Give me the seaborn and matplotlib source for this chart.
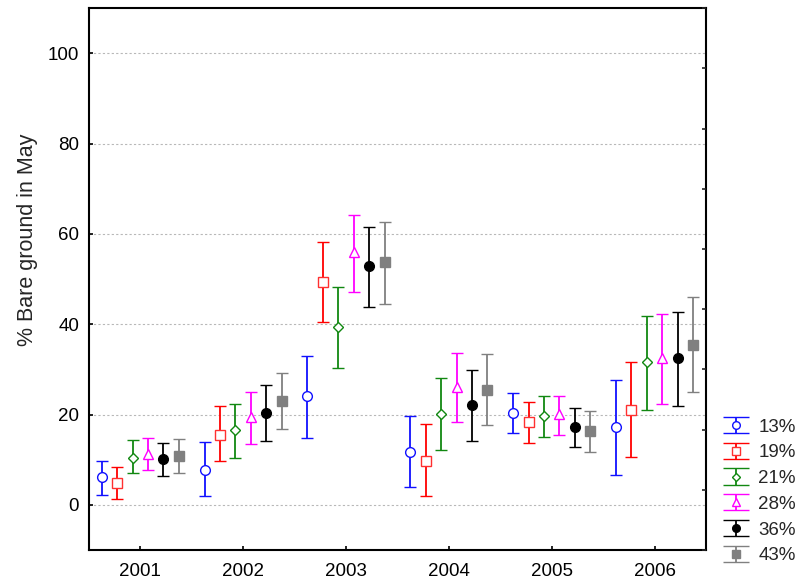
import numpy as np
import pandas as pd
import matplotlib
matplotlib.use("Agg")
import matplotlib.pyplot as plt
from matplotlib.legend_handler import HandlerErrorbar
import seaborn as sns

years = ["2001", "2002", "2003", "2004", "2005", "2006"]
groups = ["13%", "19%", "21%", "28%", "36%", "43%"]

mean_13 = [6.1, 7.8, 24.0, 11.8, 20.3, 17.3]
low_13 = [2.2, 1.9, 14.9, 4.0, 15.9, 6.7]
high_13 = [9.8, 13.9, 32.9, 19.7, 24.7, 27.6]

mean_19 = [4.9, 15.5, 49.4, 9.8, 18.3, 21.1]
low_19 = [1.3, 9.8, 40.4, 1.9, 13.8, 10.5]
high_19 = [8.4, 21.8, 58.2, 18.0, 22.7, 31.6]

mean_21 = [10.4, 16.6, 39.4, 20.2, 19.7, 31.6]
low_21 = [7.1, 10.4, 30.2, 12.1, 15.1, 21.1]
high_21 = [14.3, 22.4, 48.3, 28.2, 24.0, 41.8]

mean_28 = [11.3, 19.4, 55.9, 26.0, 20.1, 32.5]
low_28 = [7.8, 13.5, 47.2, 18.3, 15.5, 22.4]
high_28 = [14.9, 25.1, 64.3, 33.6, 24.0, 42.2]

mean_36 = [10.1, 20.4, 52.8, 22.1, 17.3, 32.6]
low_36 = [6.4, 14.2, 43.8, 14.2, 12.9, 22.0]
high_36 = [13.6, 26.5, 61.6, 29.9, 21.4, 42.8]

mean_43 = [10.8, 23.1, 53.8, 25.5, 16.3, 35.3]
low_43 = [7.0, 16.9, 44.5, 17.6, 11.8, 25.1]
high_43 = [14.5, 29.3, 62.6, 33.3, 20.7, 46.0]

means = [mean_13, mean_19, mean_21, mean_28, mean_36, mean_43]
lows = [low_13, low_19, low_21, low_28, low_36, low_43]
highs = [high_13, high_19, high_21, high_28, high_36, high_43]

rows = []
for g, m, lo, hi in zip(groups, means, lows, highs):
    for y, mv, lv, hv in zip(years, m, lo, hi):
        rows.append(dict(group=g, year=y, mean=mv, low=lv, high=hv))
df = pd.DataFrame(rows)

sns.set_theme(style="white")
plt.rcParams['font.family'] = ['Liberation Sans', 'DejaVu Sans']

colors = ["#1010ff", "#ff0000", "#118811", "#ff00ff", "#000000", "#808080"]
edgecols = ["#1010ff", "#ff3030", "#118811", "#ff00ff", "#000000", "#808080"]
markers = ["o", "s", "D", "^", "o", "s"]
faces = ["white", "white", "white", "white", "#000000", "#808080"]
msizes = [7, 7, 5, 7, 7, 7]
leg_msizes = [5.5, 6, 4.2, 6, 5.5, 6]

fig = plt.figure(figsize=(8, 5.83), dpi=100)
ax = fig.add_axes([0.111, 0.0566, 0.7715, 0.9294])

offsets = np.linspace(-0.375, 0.375, len(groups))
xbase = np.arange(len(years))
for i, g in enumerate(groups):
    sub = df[df.group == g]
    x = xbase + offsets[i]
    m = sub["mean"].to_numpy()
    yerr = np.vstack([m - sub["low"].to_numpy(), sub["high"].to_numpy() - m])
    ax.errorbar(x, m, yerr=yerr, fmt=markers[i], color=colors[i],
                mec=edgecols[i], mfc=faces[i], ms=msizes[i], mew=1.0,
                elinewidth=1.3, capsize=4, capthick=1.3, label=g, zorder=3)

ax.set_xlim(-0.5, len(years) - 0.5)
ax.set_ylim(-10, 110)
ax.set_xticks(xbase)
ax.set_xticklabels(years)
ax.set_yticks([0, 20, 40, 60, 80, 100])
ax.yaxis.grid(True, color="#b8b8b8", linestyle=(0, (2, 2)), linewidth=0.8)
ax.set_axisbelow(True)
ax.tick_params(axis="both", direction="in", length=3, width=1.2, labelsize=13.5,
               colors="black", left=True, bottom=True)
ax.tick_params(axis="y", pad=7)
ax.tick_params(axis="x", pad=9)
ax.set_ylabel("% Bare ground in May", fontsize=15.5)
ax.yaxis.set_label_coords(-0.082, 0.572)
for s in ax.spines.values():
    s.set_color("black")
    s.set_linewidth(1.5)

tw = ax.twinx()
tw.set_ylim(-10, 110)
tw.set_yticks(np.linspace(-10, 110, 10))
tw.tick_params(axis="y", direction="in", length=3, width=1.2, labelright=False, right=True)
for s in tw.spines.values():
    s.set_visible(False)

# legend proxies (wide caps as in the reference legend)
hid = fig.add_axes([0, 0, 0.001, 0.001])
hid.set_visible(False)
handles = []
for i, g in enumerate(groups):
    h = hid.errorbar([0], [0], yerr=[1], fmt=markers[i], color=colors[i],
                     mec=edgecols[i], mfc=faces[i], ms=leg_msizes[i], mew=1.0,
                     elinewidth=1.3, capsize=9.7, capthick=1.3, label=g)
    handles.append(h)
fig.legend(handles, groups, loc="lower left", bbox_to_anchor=(0.902, 0.032),
           frameon=False, fontsize=13.5, handlelength=1.5, handletextpad=0.45,
           labelspacing=0.46, borderpad=0, borderaxespad=0,
           handler_map={type(handles[0]): HandlerErrorbar(yerr_size=0.43)})

fig.savefig("out.png", dpi=100)
